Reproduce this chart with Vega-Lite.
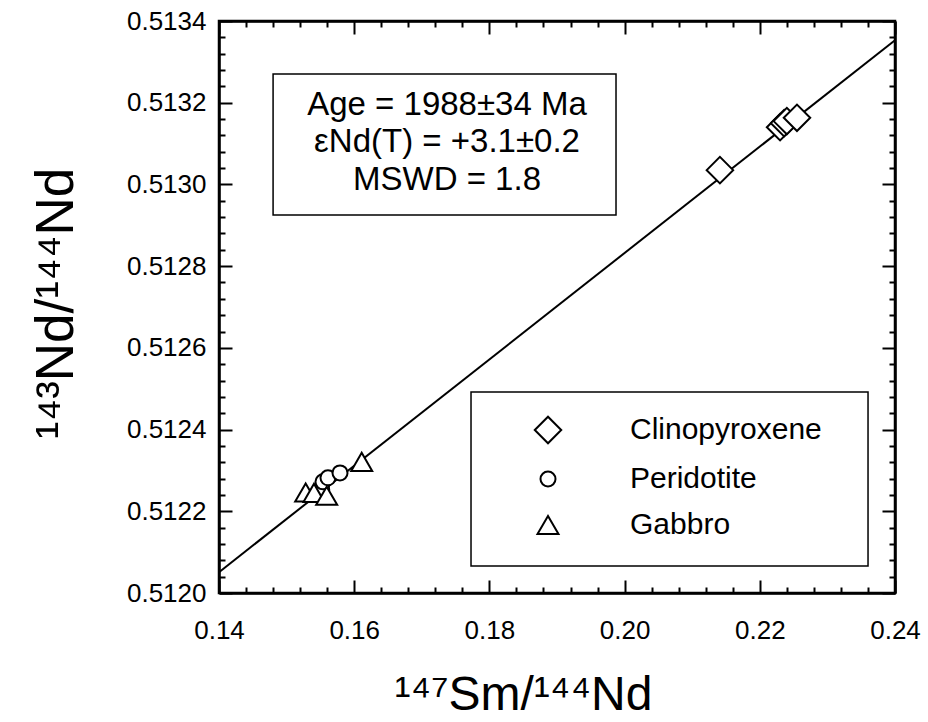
{
  "$schema": "https://vega.github.io/schema/vega-lite/v6.json",
  "width": 676,
  "height": 572,
  "autosize": {"type": "none"},
  "padding": {"left": 219, "top": 21, "right": 33, "bottom": 129},
  "background": "white",
  "config": {
    "font": "Liberation Sans",
    "view": {"stroke": "black", "strokeWidth": 2.5},
    "axis": {"domainColor": "black", "tickColor": "black", "labelColor": "black", "titleColor": "black", "grid": false, "domainWidth": 2.5, "tickWidth": 2, "labelFont": "Liberation Sans", "titleFont": "Liberation Sans", "titleFontWeight": "normal"}
  },
  "datasets": {
    "fit": [
      {"ratio": 0.14, "nd": 0.512051},
      {"ratio": 0.24, "nd": 0.513353}
    ],
    "samples": [
      {"type": "Clinopyroxene", "ratio": 0.2141, "nd": 0.513035},
      {"type": "Clinopyroxene", "ratio": 0.2230, "nd": 0.51314},
      {"type": "Clinopyroxene", "ratio": 0.2236, "nd": 0.51315},
      {"type": "Clinopyroxene", "ratio": 0.2240, "nd": 0.513155},
      {"type": "Clinopyroxene", "ratio": 0.2255, "nd": 0.513163},
      {"type": "Peridotite", "ratio": 0.1552, "nd": 0.512252},
      {"type": "Peridotite", "ratio": 0.15538, "nd": 0.512272},
      {"type": "Peridotite", "ratio": 0.15612, "nd": 0.512282},
      {"type": "Gabbro", "ratio": 0.15282, "nd": 0.512246},
      {"type": "Gabbro", "ratio": 0.15405, "nd": 0.512245},
      {"type": "Gabbro", "ratio": 0.15593, "nd": 0.512238},
      {"type": "Peridotite", "ratio": 0.1579, "nd": 0.512294},
      {"type": "Gabbro", "ratio": 0.16111, "nd": 0.512321}
    ],
    "note": [
      {"text": "Age = 1988±34 Ma\nεNd(T) = +3.1±0.2\nMSWD = 1.8"}
    ]
  },
  "resolve": {"axis": {"x": "independent", "y": "independent"}},
  "layer": [
    {
      "data": {"name": "note"},
      "mark": {"type": "rect", "fill": "white", "stroke": "black", "strokeWidth": 1.5},
      "encoding": {
        "x": {"datum": 0.148, "type": "quantitative", "scale": {"domain": [0.14, 0.24], "nice": false, "zero": false},
          "axis": {"orient": "bottom", "values": [0.144,0.148,0.152,0.156,0.164,0.168,0.172,0.176,0.184,0.188,0.192,0.196,0.204,0.208,0.212,0.216,0.224,0.228,0.232,0.236], "labels": false, "domain": false, "tickSize": -6, "title": null}},
        "x2": {"datum": 0.19873},
        "y": {"datum": 0.51327, "type": "quantitative", "scale": {"domain": [0.512, 0.5134], "nice": false, "zero": false},
          "axis": {"orient": "left", "values": [0.51204,0.51208,0.51212,0.51216,0.51224,0.51228,0.51232,0.51236,0.51244,0.51248,0.51252,0.51256,0.51264,0.51268,0.51272,0.51276,0.51284,0.51288,0.51292,0.51296,0.51304,0.51308,0.51312,0.51316,0.51324,0.51328,0.51332,0.51336], "labels": false, "domain": false, "tickSize": -6, "title": null}},
        "y2": {"datum": 0.512925}
      }
    },
    {
      "data": {"name": "note"},
      "mark": {"type": "rect", "fill": "white", "stroke": "black", "strokeWidth": 1.5},
      "encoding": {
        "x": {"datum": 0.17728, "type": "quantitative",
          "axis": {"orient": "top", "values": [0.144,0.148,0.152,0.156,0.164,0.168,0.172,0.176,0.184,0.188,0.192,0.196,0.204,0.208,0.212,0.216,0.224,0.228,0.232,0.236], "labels": false, "domain": false, "tickSize": -6, "title": null}},
        "x2": {"datum": 0.23601},
        "y": {"datum": 0.512492, "type": "quantitative",
          "axis": {"orient": "right", "values": [0.51204,0.51208,0.51212,0.51216,0.51224,0.51228,0.51232,0.51236,0.51244,0.51248,0.51252,0.51256,0.51264,0.51268,0.51272,0.51276,0.51284,0.51288,0.51292,0.51296,0.51304,0.51308,0.51312,0.51316,0.51324,0.51328,0.51332,0.51336], "labels": false, "domain": false, "tickSize": -6, "title": null}},
        "y2": {"datum": 0.512066}
      }
    },
    {
      "data": {"name": "fit"},
      "mark": {"type": "line", "color": "black", "strokeWidth": 2},
      "encoding": {
        "x": {"field": "ratio", "type": "quantitative",
          "axis": {"orient": "bottom", "values": [0.14, 0.16, 0.18, 0.2, 0.22, 0.24], "format": ".2f", "tickSize": -13, "labelPadding": 37, "labelFontSize": 26, "labelFlush": false, "labelOverlap": false,
            "title": "¹⁴⁷Sm/¹⁴⁴Nd", "titleFontSize": 48, "titleX": 304, "titleY": 116, "titleBaseline": "alphabetic", "titleAlign": "center"}},
        "y": {"field": "nd", "type": "quantitative",
          "axis": {"orient": "left", "values": [0.512, 0.5122, 0.5124, 0.5126, 0.5128, 0.513, 0.5132, 0.5134], "format": ".4f", "tickSize": -13, "labelPadding": 26, "labelFontSize": 26, "labelFlush": false, "labelOverlap": false,
            "title": "¹⁴³Nd/¹⁴⁴Nd", "titleFontSize": 53, "titleX": -147, "titleY": 282, "titleBaseline": "alphabetic", "titleAlign": "center", "titleAngle": 270}}
      }
    },
    {
      "data": {"name": "samples"},
      "mark": {"type": "point", "filled": true, "fill": "white", "stroke": "black", "strokeWidth": 2, "opacity": 1},
      "encoding": {
        "x": {"field": "ratio", "type": "quantitative",
          "axis": {"orient": "top", "values": [0.14, 0.16, 0.18, 0.2, 0.22, 0.24], "labels": false, "tickSize": -13, "title": null}},
        "y": {"field": "nd", "type": "quantitative",
          "axis": {"orient": "right", "values": [0.512, 0.5122, 0.5124, 0.5126, 0.5128, 0.513, 0.5132, 0.5134], "labels": false, "tickSize": -13, "title": null}},
        "shape": {"field": "type", "type": "nominal",
          "scale": {"domain": ["Clinopyroxene", "Peridotite", "Gabbro"], "range": ["diamond", "circle", "triangle-up"]},
          "legend": {"orient": "none", "legendX": 314, "legendY": 394, "title": null, "padding": 0, "labelFontSize": 30, "labelFont": "Liberation Sans", "labelColor": "black", "labelOffset": 67, "labelLimit": 500, "rowPadding": 16, "symbolStrokeColor": "black", "symbolStrokeWidth": 2, "symbolFillColor": "white"}},
        "size": {"field": "type", "type": "nominal",
          "scale": {"type": "ordinal", "domain": ["Clinopyroxene", "Peridotite", "Gabbro"], "range": [700, 225, 440]}}
      }
    },
    {
      "data": {"name": "note"},
      "mark": {"type": "text", "align": "center", "baseline": "alphabetic", "fontSize": 33, "font": "Liberation Sans", "color": "black", "lineBreak": "\n", "lineHeight": 37.5},
      "encoding": {
        "x": {"datum": 0.17373, "type": "quantitative", "axis": null},
        "y": {"datum": 0.51317, "type": "quantitative", "axis": null},
        "text": {"field": "text", "type": "nominal"}
      }
    }
  ]
}
